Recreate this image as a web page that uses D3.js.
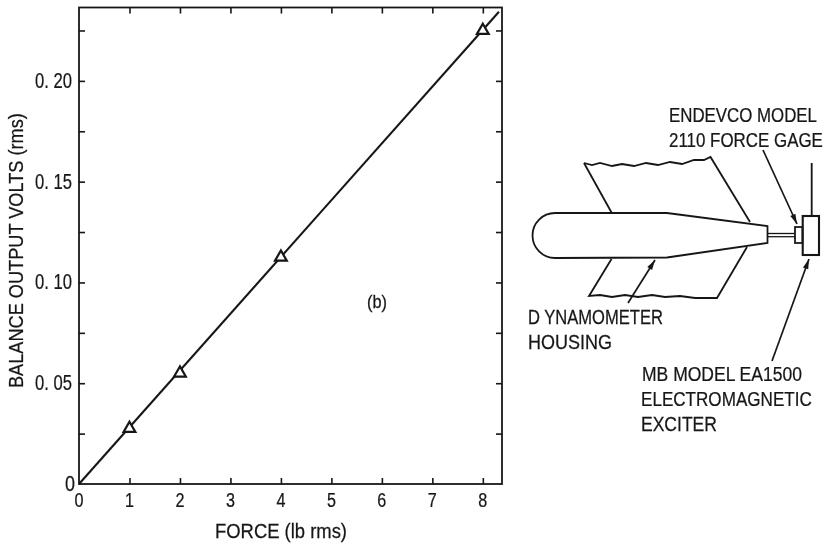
<!DOCTYPE html>
<html><head><meta charset="utf-8">
<script src="https://cdn.jsdelivr.net/npm/d3@7"></script>
<style>
html,body{margin:0;padding:0;background:#fff}
svg{display:block}
text{font-family:"Liberation Sans",sans-serif;fill:#161616;stroke:#161616;stroke-width:0.25}
</style></head><body><svg id="c" width="833" height="543"></svg>
<script>
// Chart data
const forceValues = [1, 2, 4, 8];
const voltValues = [0.0275, 0.055, 0.1125, 0.225];
const fitLine = [[0, 0], [8.32, 0.2343]];
const xTicks = [0, 1, 2, 3, 4, 5, 6, 7, 8];
const yMajor = [0, 0.05, 0.10, 0.15, 0.20];
const yLabels = ["0", "0. 05", "0. 10", "0. 15", "0. 20"];
const yAllTicks = [0.025, 0.05, 0.075, 0.10, 0.125, 0.15, 0.175, 0.20, 0.225];
const xTitle = "FORCE (lb rms)";
const yTitle = "BALANCE OUTPUT VOLTS (rms)";
const panelLabel = "(b)";
const sketchText = ["ENDEVCO MODEL", "2110 FORCE GAGE", "D YNAMOMETER", "HOUSING", "MB MODEL EA1500", "ELECTROMAGNETIC", "EXCITER"];

// Schematic outlines (the drawing at the right, in sketch units)
const wingTop = [[584,163],[592,165],[600,163],[612,166],[622,164],[634,166],[646,163],[658,165],[670,162],[682,164],[694,160],[704,160],[710.5,157],[750,222]];
const wingTopLeft = [[584,163],[611.5,212.5]];
const wingLow = [[611.5,259],[589,296],[600,295],[612,297],[625,295],[638,297],[652,295],[665,297],[680,296],[695,298],[717,298],[747,247]];
const bodyOutline = [[555,213],[667,213],[767.5,226],[767.5,243],[667,257.5],[555,258]];
const exciterLead = [[811.7,163],[811.7,216]];
const rods = [[[768,233.5],[795,233.5]],[[768,236.7],[795,236.7]]];
const pointers = [[[763,150],[797,224]],[[772,361],[809,259]],[[628,303],[655,260]]];
const sketchAnchors = [[669,122,148],[669,147,154],[528,324,135],[528,349,84],[642,380.5,160],[641,406,171],[641,431,76]];

const svg = d3.select("#c");
const ink = "#161616";
svg.append("defs").append("filter").attr("id", "scan")
  .attr("filterUnits", "userSpaceOnUse").attr("x", 0).attr("y", 0).attr("width", 833).attr("height", 543)
  .append("feGaussianBlur").attr("stdDeviation", 0.45);
const root = svg.append("g").attr("filter", "url(#scan)");

// Condensed lettering: scale each text horizontally to its measured width
function lettering(parent, str, px, py, width, size, rotate) {
  const t = parent.append("text").attr("font-size", size).text(str);
  const k = width / t.node().getComputedTextLength();
  t.attr("transform", `translate(${px},${py})${rotate ? " rotate(-90)" : ""} scale(${k},1)`);
  return t;
}

const x = d3.scaleLinear().domain([0, 8.38]).range([79, 502]);
const y = d3.scaleLinear().domain([0, 0.2364]).range([484, 7.5]);

// frame
root.append("rect").attr("x", x(0)).attr("y", y(0.2364)).attr("width", x(8.38) - x(0)).attr("height", y(0) - y(0.2364))
  .attr("fill", "none").attr("stroke", ink).attr("stroke-width", 1.8);

// ticks
const gB = root.append("g").attr("transform", `translate(0,${y(0)})`).call(d3.axisBottom(x).tickValues(xTicks.slice(1)).tickSize(-6).tickFormat(""));
const gT = root.append("g").attr("transform", `translate(0,${y(0.2364)})`).call(d3.axisTop(x).tickValues(xTicks.slice(1)).tickSize(-6).tickFormat(""));
const gL = root.append("g").attr("transform", `translate(${x(0)},0)`).call(d3.axisLeft(y).tickValues(yAllTicks).tickSize(-6).tickFormat(""));
const gR = root.append("g").attr("transform", `translate(${x(8.38)},0)`).call(d3.axisRight(y).tickValues(yAllTicks).tickSize(-6).tickFormat(""));
[gB, gT, gL, gR].forEach(g => {
  g.select(".domain").remove();
  g.selectAll("line").attr("stroke", ink).attr("stroke-width", 1.6);
});

// tick labels
xTicks.forEach(d => lettering(root, String(d), x(d) - 4.5, 507, 9, 21));
yMajor.forEach((d, i) => {
  const w = i ? 37 : 10;
  lettering(root, yLabels[i], (i ? 72 : 75) - w, y(d) + 7, w, 22);
});

// titles
lettering(root, xTitle, 215, 538, 132, 21);
lettering(root, yTitle, 23, 388, 275, 21, true);
lettering(root, panelLabel, 367, 308, 20, 18);

// fit line
const line = d3.line().x(d => x(d[0])).y(d => y(d[1]));
root.append("path").attr("d", line(fitLine)).attr("fill", "none").attr("stroke", ink).attr("stroke-width", 2.1);

// triangles
const tri = d3.symbol().type(d3.symbolTriangle).size(60);
root.selectAll(".pt").data(forceValues).join("path").attr("class", "pt")
  .attr("transform", (d, i) => `translate(${x(d)},${y(voltValues[i])})`)
  .attr("d", tri).attr("fill", "#fff").attr("stroke", ink).attr("stroke-width", 2.2);

// schematic
const sk = d3.line();
const sg = root.append("g").attr("fill", "none").attr("stroke", ink).attr("stroke-width", 1.8);
sg.append("path").attr("d", sk(wingTop));
sg.append("path").attr("d", sk(wingTopLeft));
sg.append("path").attr("d", sk(wingLow));
sg.append("path").attr("d", sk(bodyOutline) + " A 22.5 22.5 0 0 1 555 213");
rods.forEach(r => sg.append("path").attr("d", sk(r)).attr("stroke-width", 1.3));
sg.append("rect").attr("x", 795).attr("y", 227).attr("width", 7.5).attr("height", 16);
sg.append("rect").attr("x", 802.7).attr("y", 216).attr("width", 16.3).attr("height", 39).attr("stroke-width", 2.1);
sg.append("path").attr("d", sk(exciterLead));
pointers.forEach(p => {
  sg.append("path").attr("d", sk(p)).attr("stroke-width", 1.7);
  const [a, b] = p, ang = Math.atan2(b[1]-a[1], b[0]-a[0]), L = 10, W = 2.8;
  const c = [b[0]-L*Math.cos(ang), b[1]-L*Math.sin(ang)];
  const n = [-Math.sin(ang)*W, Math.cos(ang)*W];
  root.append("path").attr("d", sk([b, [c[0]+n[0],c[1]+n[1]], [c[0]-n[0],c[1]-n[1]]]) + "Z").attr("fill", ink);
});

sketchText.forEach((s, i) => lettering(root, s, sketchAnchors[i][0], sketchAnchors[i][1], sketchAnchors[i][2], 21));
</script></body></html>
